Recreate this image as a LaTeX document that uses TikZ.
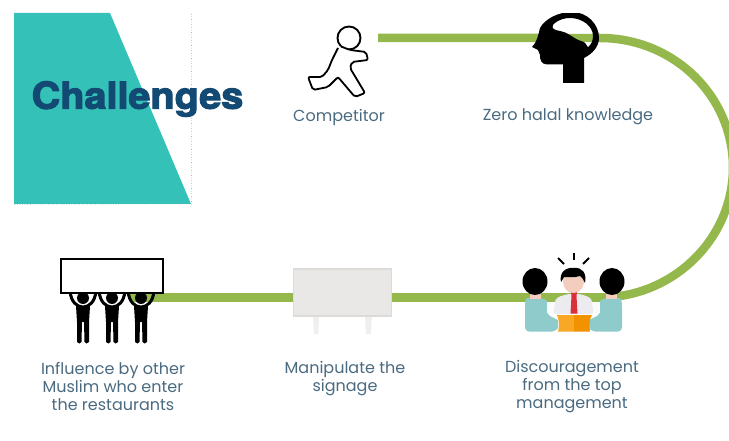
\documentclass[tikz,border=0pt]{standalone}
\usepackage{fontspec}
\setmainfont{Poppins}
\newfontfamily\headfont[BoldFeatures={FakeBold=3}]{TeX Gyre Heros}
\definecolor{teal1}{HTML}{33C1B8}
\definecolor{navy}{HTML}{134A73}
\definecolor{lab}{HTML}{4A6A80}
\definecolor{grn}{HTML}{95B84C}
\definecolor{sign}{HTML}{E9E8E7}
\definecolor{signb}{HTML}{DCDBD8}
\definecolor{signleg}{HTML}{F0EFEE}
\definecolor{shirt}{HTML}{8FCBCB}
\definecolor{skin}{HTML}{F3CDBD}
\definecolor{tbl}{HTML}{F9A825}
\definecolor{tbld}{HTML}{F39200}
\definecolor{tie}{HTML}{D9303A}
\definecolor{wshirt}{HTML}{ECECF0}
\tikzset{
 x=1pt,y=-1pt,
 caption/.style={text=lab,font=\fontsize{16}{17.7}\selectfont,align=center,inner sep=0pt},
 route/.style={draw=grn,line width=8.5pt},
 anchorpt/.style={inner sep=0pt,minimum size=0pt},
 man/.style={fill=black,draw=none},
 ray/.style={line width=2pt},
}
\begin{document}
\begin{tikzpicture}
\useasboundingbox (0,0) rectangle (729,441);
\clip (0,0) rectangle (729,441);
% banner
\fill[teal1] (14,13) -- (110,13) -- (191,204) -- (14,204) -- cycle;
\draw[gray!60,dotted,line width=.6pt] (191.5,14) -- (191.5,204) -- (14,204.5);
% anchors
\node[anchorpt] (comp) at (378,38) {};
\node[anchorpt] (brain) at (600,38) {};
\node[anchorpt] (board) at (600,297.5) {};
\node[anchorpt] (crowd) at (130,297.5) {};
% title
\node[text=navy,font=\headfont\fontsize{37}{38}\selectfont\bfseries,inner sep=0pt,xscale=1.07] (title) at (137.5,99) {Challenges};
% connectors
\draw[route] (comp.center) -- (brain.center)
  .. controls (673.5,38) and (733,95.7) .. (733,167.5)
  .. controls (733,239) and (673,297.5) .. (board.center);
\draw[route] (board.center) -- (crowd.center);
% runner
\draw[line width=1.9pt,fill=white] (349,38) circle (11.5);
\draw[line width=1.8pt,fill=white,rounded corners=2pt]
 (338,48) -- (332,60) -- (328,70) -- (322,77) -- (308,77) -- (313,90) -- (328,87) -- (338,77)
 -- (355,97) -- (365,93) -- (350,68) -- (352,62) -- (368,60) -- (366,52) -- (350,50) -- (341,46.5);
% brain head: white part above the line, black silhouette with a window
\fill[white] (553,25) .. controls (558,19) and (566,18) .. (570,18) .. controls (582,18) and (593,26) .. (593,33.7)
 -- (560,33.7) -- (553,29) -- cycle;
\fill[black,even odd rule] (572,12) .. controls (587,12) and (599,24) .. (599,38)
 .. controls (599,47) and (592,54) .. (584,58) -- (584,83) -- (563,83) -- (563,64.5)
 -- (547,64.5) .. controls (541,64) and (540,60) .. (540,55) -- (538,50) -- (532,47)
 .. controls (537,42) and (538,36) .. (540,28) .. controls (545,19) and (558,12) .. (572,12) -- cycle
 (553,25) .. controls (558,19) and (566,18) .. (570,18) .. controls (582,18) and (593,26) .. (593,36)
 .. controls (593,41) and (591,45) .. (588,47) .. controls (586,44) and (585,42) .. (581,41)
 .. controls (572,38) and (570,33) .. (560,31) .. controls (555,30) and (551,29) .. (553,25) -- cycle;
\fill[white] (586,42.3) -- (590,42.3) -- (588,47) -- cycle;
\fill[white] (500,0) rectangle (650,13);
% sign
\fill[signleg] (313,316) -- (319,316) -- (318.5,334) -- (314,334) -- cycle;
\fill[signleg] (365,316) -- (372,316) -- (371,334) -- (366,334) -- cycle;
\draw[signb,fill=sign,line width=1.5pt] (293.5,269) rectangle (391.5,316);
% crowd
\foreach \c in {83,112,141}{
 \draw[line width=3pt] (\c-13,291) .. controls (\c-12,302) and (\c-6,307) .. (\c,307) .. controls (\c+6,307) and (\c+12,302) .. (\c+13,291);
 \fill[black] (\c,298) circle (6);
 \fill[man] (\c-7,306) -- (\c+7,306) -- (\c+6,322) -- (\c+6,342) .. controls (\c+5,344) and (\c+2,344) .. (\c+1.5,342) -- (\c+1,322) -- (\c-1,322) -- (\c-1.5,342) .. controls (\c-2,344) and (\c-5,344) .. (\c-6,342) -- (\c-6,322) -- cycle;
}
\draw[line width=2pt,fill=white] (61,259) rectangle (163,293);
% meeting
\fill[shirt,rounded corners=4pt] (525,331.5) -- (525,303) .. controls (526,298) and (531,298) .. (535,298) .. controls (541,298) and (547,300) .. (547,305) -- (547,315) .. controls (552,317) and (558,320) .. (558,324) .. controls (558,329) and (554,331.5) .. (548,331.5) -- cycle;
\fill[shirt,rounded corners=4pt] (622,331.5) -- (622,303) .. controls (621,298) and (616,298) .. (612,298) .. controls (606,298) and (600,300) .. (600,305) -- (600,315) .. controls (595,317) and (589,320) .. (589,324) .. controls (589,329) and (593,331.5) .. (599,331.5) -- cycle;
\fill[tbl] (557,315) -- (574,315) -- (574,331.5) -- (558,331.5) .. controls (560,326) and (559,320) .. (557,315) -- cycle;
\fill[tbld] (574,315) -- (592,315) .. controls (589,320) and (589,326) .. (590,331.5) -- (574,331.5) -- cycle;
\fill[wshirt,rounded corners=3pt] (553,314) -- (555,303) .. controls (556,297) and (566,294) .. (574,294) .. controls (582,294) and (591,297) .. (592,303) -- (594,314) -- cycle;
\fill[white!96!gray] (547,302) rectangle (554,313);
\fill[white!96!gray] (593,302) rectangle (600,313);
\fill[tie] (571,292) -- (577,292) -- (576.5,296) -- (577.5,313.5) -- (570.5,313.5) -- (571.5,296) -- cycle;
\fill[skin] (563,276) -- (584,276) .. controls (585,288) and (580,293) .. (573.5,293) .. controls (567,293) and (562,288) .. (563,276) -- cycle;
\fill[black] (561,282) .. controls (559,273) and (565,267) .. (574,268) .. controls (582,267) and (587,273) .. (585,283) .. controls (583,279) and (582,277) .. (580,276) .. controls (574,278) and (567,277) .. (564,277) .. controls (563,279) and (562,280) .. (561,282) -- cycle;
\fill[skin] (530,290) rectangle (541,299);
\fill[skin] (606,290) rectangle (617,299);
\fill[black] (535,281.5) ellipse (12.5 and 13.5);
\fill[black] (612,281.5) ellipse (12.5 and 13.5);
\draw[ray] (573.5,252.5) -- (573.5,260);
\draw[ray] (558,258) -- (564,264);
\draw[ray] (589,258) -- (583,264);
% captions
\node[caption] (l1) at (339,117) {Competitor};
\node[caption] (l2) at (568,117) {Zero halal knowledge};
\node[caption] (l3) at (113,386.5) {Influence by other\\Muslim who enter\\the restaurants};
\node[caption] (l4) at (345,378.5) {Manipulate the\\signage};
\node[caption] (l5) at (572,386.5) {Discouragement\\from the top\\management};
\end{tikzpicture}
\end{document}
